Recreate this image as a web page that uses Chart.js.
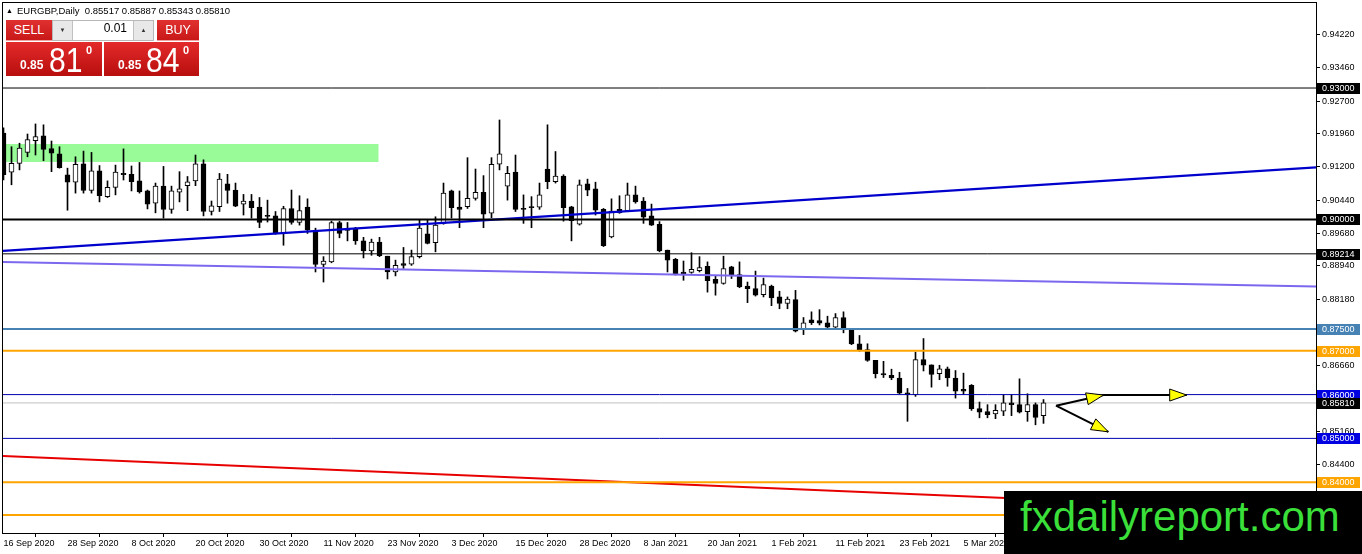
<!DOCTYPE html>
<html>
<head>
<meta charset="utf-8">
<title>EURGBP Daily</title>
<script src="https://cdn.jsdelivr.net/npm/chart.js@4.4.1/dist/chart.umd.min.js"></script>
<style>
html,body{margin:0;padding:0;background:#fff;overflow:hidden;}
#wrap{position:relative;width:1362px;height:554px;}
#chart{position:absolute;left:0;top:0;}
.hdr{position:absolute;left:6px;top:5px;font:9.5px "Liberation Sans",Arial,sans-serif;color:#000;white-space:pre;}
.hdr .tri{font-size:7px;vertical-align:1px;margin-right:4px;}
.btn{position:absolute;top:20px;height:20px;color:#fff;font:12.5px "Liberation Sans",Arial,sans-serif;text-align:center;line-height:21px;
  background:linear-gradient(#e03030,#c81818);border-bottom:1px solid #f0a0a0;}
.spin{position:absolute;left:52px;top:20px;width:100px;height:19px;border:1px solid #b8b8b8;background:#fff;}
.spin .b{position:absolute;top:0;width:19px;height:19px;background:#e8e8e8;font-size:6px;line-height:19px;text-align:center;color:#333;}
.spin .v{position:absolute;right:26px;top:0;line-height:19px;font:12px "Liberation Sans",Arial,sans-serif;color:#000;}
.price{position:absolute;top:42px;height:34px;background:linear-gradient(#e42a2a,#b80e0e);color:#fff;font-family:"Liberation Sans",Arial,sans-serif;}
.price .s{position:absolute;top:16px;font-size:12px;font-weight:bold;}
.price .l{position:absolute;top:-2px;font-size:35px;transform:scaleX(0.86);transform-origin:left top;}
.price .p{position:absolute;top:2px;font-size:11px;font-weight:bold;}
.logo{position:absolute;left:1004px;top:491px;width:358px;height:63px;background:#000;}
.logo span{position:absolute;left:16px;top:5px;font:42px/42px "Liberation Sans",Arial,sans-serif;color:#3adf3a;white-space:nowrap;}
</style>
</head>
<body>
<div id="wrap">
<canvas id="chart" width="1362" height="554"></canvas>
<div class="hdr"><span class="tri">▲</span>EURGBP,Daily  0.85517 0.85887 0.85343 0.85810</div>
<div class="btn" style="left:6px;width:46px;">SELL</div>
<div class="spin"><div class="b" style="left:0;border-right:1px solid #c0c0c0;">▼</div><div class="v">0.01</div><div class="b" style="right:0;border-left:1px solid #c0c0c0;">▲</div></div>
<div class="btn" style="left:157px;width:42px;">BUY</div>
<div class="price" style="left:6px;width:96px;"><span class="s" style="left:14px;">0.85</span><span class="l" style="left:43px;">81</span><span class="p" style="left:80px;">0</span></div>
<div class="price" style="left:104px;width:95px;"><span class="s" style="left:14px;">0.85</span><span class="l" style="left:42px;">84</span><span class="p" style="left:79px;">0</span></div>
<div class="logo"><span>fxdailyreport.com</span></div>
</div>
<script>
// daily bars, 16 Sep 2020 onwards
const opens = [
0.9197,0.9108,0.9128,0.9153,0.9180,0.9191,0.9162,0.9150,0.9102,0.9085,
0.9127,0.9066,0.9111,0.9052,0.9073,0.9105,0.9103,0.9088,0.9065,0.9037,
0.9076,0.9023,0.9062,0.9077,0.9088,0.9127,0.9018,0.9029,0.9081,0.9067,
0.9035,0.9042,0.9028,0.9008,0.9008,0.8970,0.9025,0.8993,0.9028,0.8972,
0.8897,0.8903,0.8993,0.8976,0.8978,0.8951,0.8928,0.8948,0.8916,0.8880,
0.8899,0.8898,0.8915,0.8967,0.8947,0.8991,0.9065,0.9028,0.9029,0.9048,
0.9062,0.9014,0.9126,0.9076,0.9108,0.9025,0.9029,0.9028,0.9115,0.9086,
0.9099,0.9029,0.8989,0.9081,0.9070,0.9023,0.8960,0.9023,0.9020,0.9056,
0.9042,0.9008,0.8989,0.8930,0.8909,0.8880,0.8879,0.8883,0.8893,0.8863,
0.8854,0.8892,0.8874,0.8848,0.8842,0.8828,0.8848,0.8823,0.8808,0.8817,
0.8749,0.8771,0.8769,0.8764,0.8754,0.8776,0.8748,0.8716,0.8703,0.8678,
0.8648,0.8644,0.8638,0.8604,0.8600,0.8680,0.8668,0.8648,0.8659,0.8638,
0.8612,0.8621,0.8568,0.8561,0.8556,0.8562,0.8581,0.8577,0.8561,0.8577,
0.85517];
const highs = [
0.9209,0.9166,0.9174,0.9195,0.9218,0.9216,0.9179,0.9166,0.9117,0.9143,
0.9156,0.9153,0.9123,0.9088,0.9124,0.9161,0.9122,0.9130,0.9067,0.9083,
0.9121,0.9076,0.9109,0.9098,0.9147,0.9136,0.9042,0.9105,0.9103,0.9083,
0.9057,0.9057,0.9050,0.9044,0.9018,0.9030,0.9067,0.9054,0.9047,0.8980,
0.8915,0.8996,0.8996,0.8993,0.8982,0.8959,0.8955,0.8959,0.8916,0.8907,
0.8936,0.8930,0.8999,0.8999,0.9006,0.9083,0.9067,0.9065,0.9141,0.9115,
0.9100,0.9141,0.9227,0.9121,0.9147,0.9056,0.9052,0.9083,0.9216,0.9155,
0.9102,0.9030,0.9090,0.9092,0.9085,0.9025,0.9047,0.9054,0.9083,0.9076,
0.9050,0.9035,0.8995,0.8930,0.8911,0.8905,0.8924,0.8915,0.8903,0.8871,
0.8916,0.8893,0.8903,0.8857,0.8882,0.8866,0.8850,0.8836,0.8823,0.8838,
0.8776,0.8789,0.8794,0.8779,0.8785,0.8789,0.8748,0.8735,0.8716,0.8678,
0.8676,0.8658,0.8651,0.8614,0.8697,0.8728,0.8668,0.8667,0.8663,0.8655,
0.8649,0.8623,0.8583,0.8577,0.8577,0.8600,0.8600,0.8636,0.8602,0.8581,
0.85887];
const lows = [
0.9090,0.9079,0.9113,0.9143,0.9147,0.9134,0.9109,0.9117,0.9021,0.9060,
0.9060,0.9060,0.9040,0.9050,0.9056,0.9090,0.9065,0.9060,0.9024,0.9015,
0.9003,0.9014,0.9040,0.9020,0.9077,0.9008,0.9010,0.9018,0.9037,0.9029,
0.9010,0.9003,0.8981,0.8994,0.8966,0.8941,0.8989,0.8987,0.8968,0.8880,
0.8857,0.8901,0.8958,0.8951,0.8943,0.8912,0.8918,0.8915,0.8864,0.8871,
0.8888,0.8895,0.8912,0.8944,0.8926,0.8989,0.9003,0.8981,0.9025,0.9044,
0.8981,0.9004,0.9113,0.9044,0.9018,0.8991,0.8981,0.9023,0.9070,0.9083,
0.8996,0.8951,0.8987,0.9054,0.9010,0.8938,0.8958,0.9014,0.9018,0.9037,
0.8991,0.8986,0.8926,0.8880,0.8873,0.8861,0.8877,0.8880,0.8834,0.8827,
0.8852,0.8865,0.8844,0.8810,0.8825,0.8823,0.8803,0.8796,0.8796,0.8743,
0.8737,0.8760,0.8759,0.8752,0.8753,0.8741,0.8714,0.8699,0.8676,0.8638,
0.8639,0.8634,0.8602,0.8539,0.8596,0.8654,0.8617,0.8634,0.8619,0.8592,
0.8600,0.8564,0.8547,0.8547,0.8545,0.8552,0.8552,0.8558,0.8539,0.8531,
0.85343];
const closes = [
0.9102,0.9128,0.9163,0.9182,0.9189,0.9160,0.9151,0.9118,0.9085,0.9126,
0.9066,0.9111,0.9054,0.9073,0.9108,0.9102,0.9086,0.9063,0.9035,0.9076,
0.9023,0.9065,0.9070,0.9086,0.9127,0.9018,0.9031,0.9092,0.9066,0.9030,
0.9042,0.9027,0.8993,0.9007,0.8968,0.9025,0.8993,0.9020,0.8976,0.8897,
0.8905,0.8993,0.8968,0.8975,0.8951,0.8928,0.8948,0.8917,0.8880,0.8895,
0.8895,0.8915,0.8980,0.8945,0.8987,0.9060,0.9027,0.9023,0.9048,0.9062,
0.9012,0.9126,0.9150,0.9105,0.9023,0.9023,0.9027,0.9056,0.9086,0.9099,
0.9027,0.8997,0.9079,0.9067,0.9021,0.8940,0.9019,0.9015,0.9056,0.9040,
0.9005,0.8987,0.8928,0.8907,0.8874,0.8876,0.8886,0.8890,0.8860,0.8854,
0.8888,0.8874,0.8846,0.8842,0.8827,0.8851,0.8821,0.8808,0.8818,0.8745,
0.8764,0.8764,0.8763,0.8754,0.8776,0.8752,0.8716,0.8701,0.8678,0.8648,
0.8645,0.8638,0.8603,0.8600,0.8680,0.8667,0.8646,0.8659,0.8638,0.8608,
0.8608,0.8568,0.8560,0.8554,0.8564,0.8581,0.8577,0.8560,0.8577,0.8548,
0.85810];

const dateLabels = ['16 Sep 2020','28 Sep 2020','8 Oct 2020','20 Oct 2020','30 Oct 2020','11 Nov 2020',
  '23 Nov 2020','3 Dec 2020','15 Dec 2020','28 Dec 2020','8 Jan 2021','20 Jan 2021','1 Feb 2021',
  '11 Feb 2021','23 Feb 2021','5 Mar 2021'];
const dateTickBars = [0,8,16,24,32,40,48,56,64,72,80,88,96,104,112,120];
const priceTicks = [0.9422,0.9346,0.9270,0.9196,0.9120,0.9044,0.8968,0.8894,0.8818,0.8742,0.8666,0.8516,0.8440];

// horizontal levels drawn on the chart
const levels = [0.93000,0.90000,0.89214,0.87500,0.87000,0.86000,0.85810,0.85000,0.84000,0.83250];
// trend lines: price at left edge, price at right edge
const blueTrend = [0.8928,0.9119];
const purpleTrend = [0.8903,0.8847];
const redTrend = [0.8460,0.8334];
// green zone: top, bottom, last bar
const zone = [0.9172,0.9131,46.9];
// arrows: start point and tips as [bar, price]
const arrowStart = [131.56,0.85747];
const arrowTips = [[137.5,0.8599],[138.1,0.8515]];
const arrowRay = [[137.5,0.8599],[147.9,0.8599]];

const xMin = -0.0625, xMax = 164.0625;

const levelLook = {
  0.93:{c:'#000000',w:1,tag:'#000000'},
  0.9:{c:'#000000',w:2,tag:'#000000'},
  0.89214:{c:'#000000',w:1,tag:'#000000'},
  0.875:{c:'#4682b4',w:2,tag:'#4682b4'},
  0.87:{c:'#ffa500',w:2,tag:'#ffa500'},
  0.86:{c:'#0000b0',w:1,tag:'#0000e0'},
  0.8581:{c:'#c0c0c0',w:1,tag:'#000000',back:true},
  0.85:{c:'#0000b0',w:1,tag:'#0000e0'},
  0.84:{c:'#ffa500',w:2,tag:'#ffa500'},
  0.8325:{c:'#ffa500',w:2,tag:'#ffa500'}
};

Chart.defaults.font.family = '"Liberation Sans", Arial, sans-serif';
Chart.defaults.color = '#000';

function seg(p0,p1){ return [{x:xMin,y:p0},{x:xMax,y:p1}]; }

const datasets = [];

datasets.push({
  type:'bar', label:'body', order:1, grouped:false,
  data: opens.map((o,i)=>({x:i,y:[o,closes[i]]})),
  backgroundColor: opens.map((o,i)=>closes[i]>=o?'#ffffff':'#000000'),
  borderColor:'#000', borderWidth:1, borderSkipped:false,
  barThickness:5, minBarLength:1
});
datasets.push({
  type:'bar', label:'wick', order:2, grouped:false,
  data: lows.map((l,i)=>({x:i,y:[l,highs[i]]})),
  backgroundColor:'#000', borderWidth:0, barThickness:1, minBarLength:1
});

levels.forEach(L=>{
  const k = levelLook[L];
  datasets.push({type:'line', label:'lvl', order:k.back?8:0, data:seg(L,L),
    borderColor:k.c, borderWidth:k.w, pointRadius:0, fill:false});
});

datasets.push({type:'line', order:0, data:seg(blueTrend[0],blueTrend[1]), borderColor:'#0000cd', borderWidth:2.3, pointRadius:0});
datasets.push({type:'line', order:0, data:seg(purpleTrend[0],purpleTrend[1]), borderColor:'#7b68ee', borderWidth:2, pointRadius:0});
datasets.push({type:'line', order:0, data:seg(redTrend[0],redTrend[1]), borderColor:'#e80000', borderWidth:2, pointRadius:0});
datasets.push({type:'line', order:10, data:[{x:xMin,y:zone[0]},{x:zone[2],y:zone[0]}],
  borderWidth:0, pointRadius:0, backgroundColor:'#98fb98', fill:{value:zone[1]}});

const extras = {
  id:'extras',
  afterDatasetsDraw(chart){
    const {ctx, scales:{x,y}} = chart;
    const P = p=>[x.getPixelForValue(p[0]), y.getPixelForValue(p[1])];
    const s = P(arrowStart);
    ctx.save();
    ctx.strokeStyle = '#000'; ctx.lineWidth = 2;
    ctx.beginPath();
    arrowTips.forEach(t=>{ const e=P(t); ctx.moveTo(s[0],s[1]); ctx.lineTo(e[0],e[1]); });
    const r0=P(arrowRay[0]), r1=P(arrowRay[1]);
    ctx.moveTo(r0[0],r0[1]); ctx.lineTo(r1[0],r1[1]);
    ctx.stroke();
    const head = (a,b)=>{
      const ang = Math.atan2(b[1]-a[1], b[0]-a[0]);
      const len = 17, hw = 6;
      const bx = b[0]-len*Math.cos(ang), by = b[1]-len*Math.sin(ang);
      ctx.beginPath();
      ctx.moveTo(b[0],b[1]);
      ctx.lineTo(bx+hw*Math.sin(ang), by-hw*Math.cos(ang));
      ctx.lineTo(bx-hw*Math.sin(ang), by+hw*Math.cos(ang));
      ctx.closePath();
      ctx.fillStyle = '#ffff00'; ctx.fill();
      ctx.lineWidth = 1; ctx.strokeStyle = '#000'; ctx.stroke();
    };
    arrowTips.forEach(t=>head(s,P(t)));
    head(r0,r1);
    ctx.restore();
  },
  afterDraw(chart){
    const {ctx, chartArea:a, scales:{y}} = chart;
    ctx.save();
    ctx.strokeStyle = '#000'; ctx.lineWidth = 1;
    ctx.strokeRect(Math.round(a.left)-0.5, Math.round(a.top)+0.5, Math.round(a.right-a.left)+1, Math.round(a.bottom-a.top));
    ctx.font = '9px "Liberation Sans", Arial, sans-serif';
    ctx.textBaseline = 'middle';
    levels.forEach(L=>{
      const k = levelLook[L];
      const py = Math.round(y.getPixelForValue(L));
      ctx.fillStyle = k.tag;
      ctx.fillRect(a.right+1, py-5, 43, 11);
      ctx.fillStyle = '#fff';
      ctx.fillText(L.toFixed(5), a.right+6, py+0.5);
    });
    ctx.restore();
  }
};

new Chart(document.getElementById('chart'), {
  type:'bar',
  data:{datasets},
  options:{
    responsive:false, animation:false,
    layout:{padding:{left:3,top:2,right:0,bottom:0}},
    plugins:{legend:{display:false}, tooltip:{enabled:false}},
    scales:{
      x:{
        type:'linear', min:xMin, max:xMax, offset:false,
        afterBuildTicks(s){ s.ticks = dateTickBars.map(v=>({value:v})); },
        afterFit(s){ s.height = 21; s.paddingLeft = 0; s.paddingRight = 0; },
        ticks:{autoSkip:false, maxRotation:0, align:'start', padding:1, font:{size:9}, color:'#000',
          callback:(v,i)=>dateLabels[i]},
        grid:{drawOnChartArea:false, tickLength:4, color:'#000'},
        border:{color:'#000'}
      },
      y:{
        type:'linear', position:'right', min:0.8284, max:0.94964,
        afterBuildTicks(s){ s.ticks = priceTicks.map(v=>({value:v})); },
        afterFit(s){ s.width = 46; s.paddingTop = 0; s.paddingBottom = 0; },
        ticks:{padding:2, font:{size:9}, color:'#000', callback:v=>v.toFixed(5)},
        grid:{drawOnChartArea:false, tickLength:4, color:'#000'},
        border:{color:'#000'}
      }
    }
  },
  plugins:[extras]
});
</script>
</body>
</html>
